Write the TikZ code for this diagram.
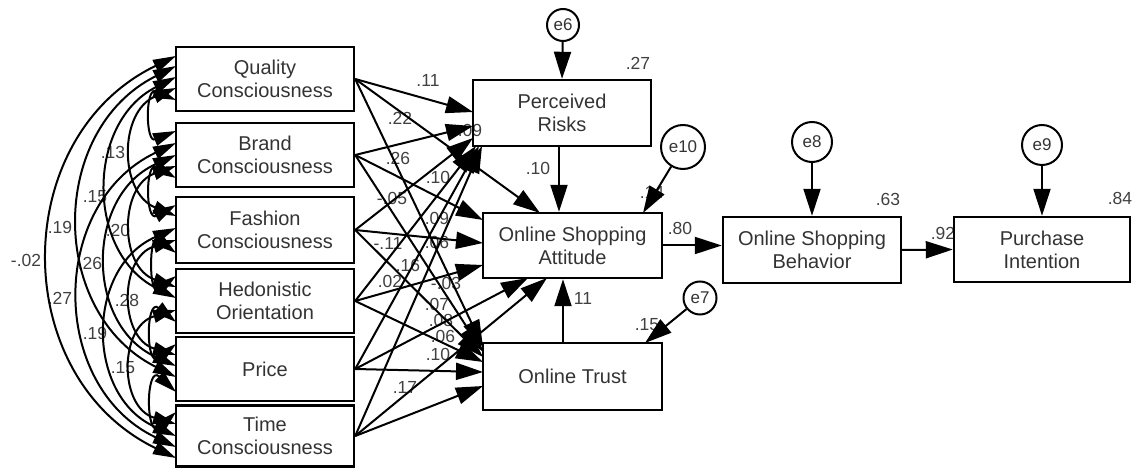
\documentclass[tikz,border=0pt]{standalone}
\usepackage{fontspec}
\setmainfont{Liberation Sans}
\usetikzlibrary{arrows.meta}
\begin{document}
\begin{tikzpicture}[x=1pt,y=1pt,
 box/.style={draw, line width=2.4pt, minimum width=178pt, minimum height=64pt, align=center, font=\fontsize{20}{23}\selectfont, text=black!80, inner sep=0pt},
 err/.style={draw, circle, line width=2pt, inner sep=0pt, font=\fontsize{17}{18}\selectfont, text=black!80},
 lab/.style={font=\fontsize{17.5}{18}\selectfont, text=black!75, inner sep=0pt},
 arr/.style={line width=2pt, -{Triangle[length=27pt,width=17pt]}},
 cov/.style={line width=2pt, {Triangle[length=23pt,width=13pt]}-{Triangle[length=23pt,width=13pt]}},
]
\useasboundingbox (0,0) rectangle (1132,-470);

% ---------- labels (drawn first, lines pass over them)
\node[lab] (c1) at (26,-260) {-.02};
\node[lab] (c2) at (60,-227) {.19};
\node[lab] (c3) at (60,-298) {.27};
\node[lab] (c4) at (95,-197) {.15};
\node[lab] (c5) at (90,-263) {.26};
\node[lab] (c6) at (95,-333) {.19};
\node[lab] (c7) at (113,-152) {.13};
\node[lab] (c8) at (118,-230) {.20};
\node[lab] (c9) at (127,-300) {.28};
\node[lab] (c10) at (123,-368) {.15};

\node[lab] (p1) at (428,-80) {.11};
\node[lab] (p2) at (400,-118) {.22};
\node[lab] (p3) at (398,-158) {.26};
\node[lab] (p4) at (438,-177) {.10};
\node[lab] (p5) at (392,-198) {-.05};
\node[lab] (p6) at (437,-218) {.09};
\node[lab] (p7) at (437,-242) {.06};
\node[lab] (p8) at (388,-243) {-.11};
\node[lab] (p9) at (408,-265) {.16};
\node[lab] (p10) at (390,-281) {.02};
\node[lab] (p11) at (446,-283) {-.03};
\node[lab] (p12) at (437,-304) {.07};
\node[lab] (p13) at (441,-320) {.08};
\node[lab] (p14) at (443,-336) {.06};
\node[lab] (p15) at (438,-354) {.10};
\node[lab] (p16) at (405,-387) {.17};
\node[lab] (p17) at (470,-130) {.09};

\node[lab] (r1) at (638,-63) {.27};
\node[lab] (r2) at (538,-168) {.10};
\node[lab] (r3) at (652,-192) {.14};
\node[lab] (r4) at (680,-228) {.80};
\node[lab] (r5) at (583,-298) {11};
\node[lab] (r6) at (647,-325) {.15};
\node[lab] (r7) at (888,-199) {.63};
\node[lab] (r8) at (943,-233) {.92};
\node[lab] (r9) at (1120,-198) {.84};

% ---------- boxes
\node[box] (Q) at (265,-79) {Quality\\Consciousness};
\node[box] (B) at (265,-155) {Brand\\Consciousness};
\node[box, minimum height=66pt] (F) at (265,-230) {Fashion\\Consciousness};
\node[box] (H) at (265,-301) {Hedonistic\\Orientation};
\node[box] (P) at (265,-369) {Price};
\node[box, minimum height=61pt] (T) at (265,-436) {Time\\Consciousness};

\node[box, minimum height=66pt] (PR) at (562,-113) {Perceived\\Risks};
\node[box, minimum width=179pt, minimum height=65pt] (A) at (572.5,-245.5) {Online Shopping\\Attitude};
\node[box, minimum width=179pt, minimum height=67pt] (Tr) at (572.5,-376.5) {Online Trust};
\node[box, minimum height=66pt] (Beh) at (812,-250) {Online Shopping\\Behavior};
\node[box, minimum width=176pt, minimum height=65pt] (PI) at (1042,-249.5) {Purchase\\Intention};

% ---------- error terms
\node[err, minimum size=32pt] (e6) at (563,-25) {e6};
\node[err, minimum size=44pt] (e10) at (683,-147) {e10};
\node[err, minimum size=33pt] (e7) at (700,-298) {e7};
\node[err, minimum size=40pt] (e8) at (812,-142) {e8};
\node[err, minimum size=40pt] (e9) at (1042,-145) {e9};

% ---------- target points
\coordinate (prQ) at (473,-112);
\coordinate (prB) at (473,-126);
\coordinate (prF) at (473,-138);
\coordinate (prH) at (476,-146);
\coordinate (prP) at (479,-146);
\coordinate (prT) at (482,-146);
\coordinate (aQ) at (540,-213);
\coordinate (aB) at (483,-220);
\coordinate (aF) at (483,-243);
\coordinate (aH) at (483,-265);
\coordinate (aP) at (528,-278);
\coordinate (aT) at (547,-278);
\coordinate (tQ) at (483,-347);
\coordinate (tB) at (483,-352);
\coordinate (tF) at (483,-357);
\coordinate (tH) at (483,-362);
\coordinate (tP) at (483,-372);
\coordinate (tT) at (483,-386);
\coordinate (a10) at (643,-213);
\coordinate (t7) at (645,-343);
\coordinate (x559) at (559,0);
\coordinate (x563) at (563,0);

% ---------- exogenous paths
\foreach \s in {Q,B,F,H,P,T}{
  \draw[arr] (\s.east) -- (pr\s);
  \draw[arr] (\s.east) -- (a\s);
  \draw[arr] (\s.east) -- (t\s);
}

% ---------- structural paths
\draw[arr] (e6) -- (PR.north);
\draw[arr] (e10) -- (a10);
\draw[arr] (e7) -- (t7);
\draw[arr] (e8) -- (Beh.north);
\draw[arr] (e9) -- (PI.north);
\draw[arr] (x559 |- PR.south) -- (x559 |- A.north);
\draw[arr] (x563 |- Tr.north) -- (x563 |- A.south);
\draw[arr] (A.east) -- (Beh.west |- A.east);
\draw[arr] (Beh.east) -- (PI.west);

% ---------- covariance attach points
\coordinate (cQT) at (176,-56);
\coordinate (cQP) at (176,-66);
\coordinate (cQH) at (176,-77);
\coordinate (cQF) at (176,-88);
\coordinate (cQB) at (176,-100);
\coordinate (cBQ) at (176,-131);
\coordinate (cBT) at (176,-143);
\coordinate (cBP) at (176,-155);
\coordinate (cBH) at (176,-166);
\coordinate (cBF) at (176,-178);
\coordinate (cFB) at (176,-205);
\coordinate (cFQ) at (176,-216);
\coordinate (cFT) at (176,-228);
\coordinate (cFP) at (176,-240);
\coordinate (cFH) at (176,-253);
\coordinate (cHF) at (176,-276);
\coordinate (cHB) at (176,-287);
\coordinate (cHQ) at (176,-298);
\coordinate (cHT) at (176,-310);
\coordinate (cHP) at (176,-322);
\coordinate (cPH) at (176,-344);
\coordinate (cPF) at (176,-355);
\coordinate (cPB) at (176,-366);
\coordinate (cPQ) at (176,-377);
\coordinate (cPT) at (176,-392);
\coordinate (cTP) at (176,-412);
\coordinate (cTH) at (176,-424);
\coordinate (cTF) at (176,-436);
\coordinate (cTB) at (176,-447);
\coordinate (cTQ) at (176,-458);

% ---------- covariances
\draw[cov] (cQT) to[bend right=64.2, looseness=1.19] (cTQ);
\draw[cov] (cQP) to[bend right=63.4, looseness=1.18] (cPQ);
\draw[cov] (cBT) to[bend right=64.6, looseness=1.19] (cTB);
\draw[cov] (cQH) to[bend right=63.2, looseness=1.17] (cHQ);
\draw[cov] (cBP) to[bend right=65.7, looseness=1.21] (cPB);
\draw[cov] (cFT) to[bend right=66.4, looseness=1.22] (cTF);
\draw[cov] (cQF) to[bend right=67.8, looseness=1.24] (cFQ);
\draw[cov] (cBH) to[bend right=70.8, looseness=1.28] (cHB);
\draw[cov] (cFP) to[bend right=73.6, looseness=1.33] (cPF);
\draw[cov] (cHT) to[bend right=74.0, looseness=1.34] (cTH);
\draw[cov] (cQB) to[bend right=112, looseness=2.73] (cBQ);
\draw[cov] (cBF) to[bend right=119, looseness=3.34] (cFB);
\draw[cov] (cFH) to[bend right=127, looseness=3.81] (cHF);
\draw[cov] (cHP) to[bend right=129, looseness=4.57] (cPH);
\draw[cov] (cPT) to[bend right=133, looseness=5.37] (cTP);
\end{tikzpicture}
\end{document}
